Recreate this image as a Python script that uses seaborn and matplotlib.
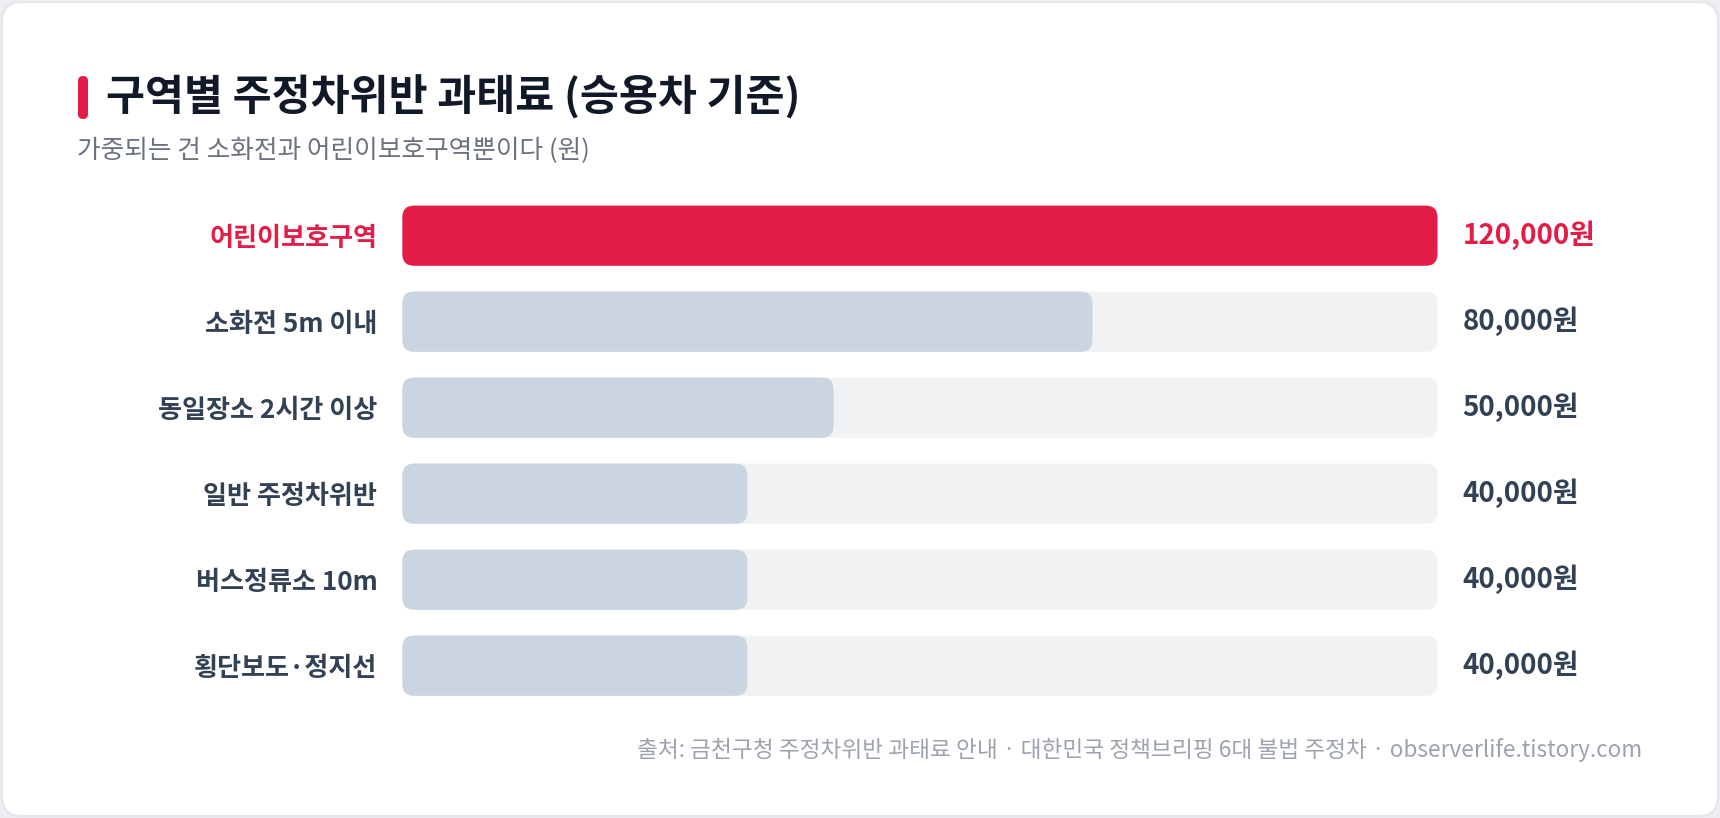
import seaborn as sns
import matplotlib.pyplot as plt
import pandas as pd
from matplotlib.patches import FancyBboxPatch

categories = ['어린이보호구역', '소화전 5m 이내', '동일장소 2시간 이상',
              '일반 주정차위반', '버스정류소 10m', '횡단보도·정지선']
fines = [120000, 80000, 50000, 40000, 40000, 40000]
value_labels = ['120,000원', '80,000원', '50,000원', '40,000원', '40,000원', '40,000원']

title = '구역별 주정차위반 과태료 (승용차 기준)'
subtitle = '가중되는 건 소화전과 어린이보호구역뿐이다 (원)'
source = '출처: 금천구청 주정차위반 과태료 안내 · 대한민국 정책브리핑 6대 불법 주정차 · observerlife.tistory.com'

RED = '#e31d48'
BAR_GRAY = '#cbd5e1'
TRACK = '#f1f2f4'
LABEL = '#334155'

sns.set_theme(style='white')
plt.rcParams['font.family'] = ['Noto Sans CJK KR', 'DejaVu Sans']

W, H = 1720, 818
fig = plt.figure(figsize=(W / 100, H / 100), dpi=100)
fig.patch.set_facecolor('#eceef1')

# background axes in pixel units for the card, title and footer
bg = fig.add_axes([0, 0, 1, 1], zorder=0)
bg.set_xlim(0, W)
bg.set_ylim(H, 0)
bg.axis('off')
bg.add_patch(FancyBboxPatch((2, 2), W - 4, H - 4, boxstyle='round,pad=0,rounding_size=20',
                            fc='white', ec='#e3e5e9', lw=1.5))
bg.add_patch(FancyBboxPatch((78, 76), 10, 43, boxstyle='round,pad=0,rounding_size=5',
                            fc=RED, ec='none'))
bg.text(106, 97, title, fontsize=30.5, weight=900, color='#111827', va='center', ha='left')
bg.text(77, 151, subtitle, fontsize=18.5, color='#6b7280', va='center', ha='left')
bg.text(1642, 750, source, fontsize=16.3, color='#9ca3af', va='center', ha='right')

df = pd.DataFrame({'category': categories, 'fine': fines})
df['track'] = df['fine'].max()

left, right = 402.3, 1437.5
top, bottom = 192.7, 708.7
ax = fig.add_axes([left / W, 1 - bottom / H, (right - left) / W, (bottom - top) / H], zorder=1)
ax.patch.set_alpha(0)

sns.barplot(data=df, x='track', y='category', color=TRACK, width=0.7, ax=ax,
            saturation=1, zorder=1)
palette = [RED] + [BAR_GRAY] * (len(categories) - 1)
sns.barplot(data=df, x='fine', y='category', hue='category', palette=palette,
            width=0.7, ax=ax, saturation=1, legend=False, zorder=2)

ax.set_xlim(0, df['fine'].max())
ax.set_ylim(len(categories) - 0.5, -0.5)
ax.set_xlabel('')
ax.set_ylabel('')
ax.set_xticks([])
sns.despine(ax=ax, left=True, bottom=True)

# swap square bars for rounded ones
x0, y0 = ax.transData.transform((0, 0))
x1, y1 = ax.transData.transform((1, 1))
px_x, px_y = abs(x1 - x0), abs(y1 - y0)
radius = 12 / px_x
for p in list(ax.patches):
    rb = FancyBboxPatch((p.get_x(), p.get_y()), p.get_width(), p.get_height(),
                        boxstyle=f'round,pad=0,rounding_size={radius}',
                        mutation_aspect=px_x / px_y, fc=p.get_facecolor(), ec='none',
                        zorder=p.get_zorder())
    p.remove()
    ax.add_patch(rb)

ax.tick_params(axis='y', length=0, pad=18)
for i, lab in enumerate(ax.get_yticklabels()):
    lab.set_fontsize(18.8)
    lab.set_fontweight('bold')
    lab.set_color(RED if i == 0 else LABEL)

for i, txt in enumerate(value_labels):
    ax.annotate(txt, xy=(1, i), xycoords=('axes fraction', 'data'),
                xytext=(18, 0), textcoords='offset points', ha='left', va='center',
                fontsize=20, weight='bold', color=RED if i == 0 else LABEL)

fig.savefig('out.png', dpi=100, facecolor=fig.get_facecolor())
